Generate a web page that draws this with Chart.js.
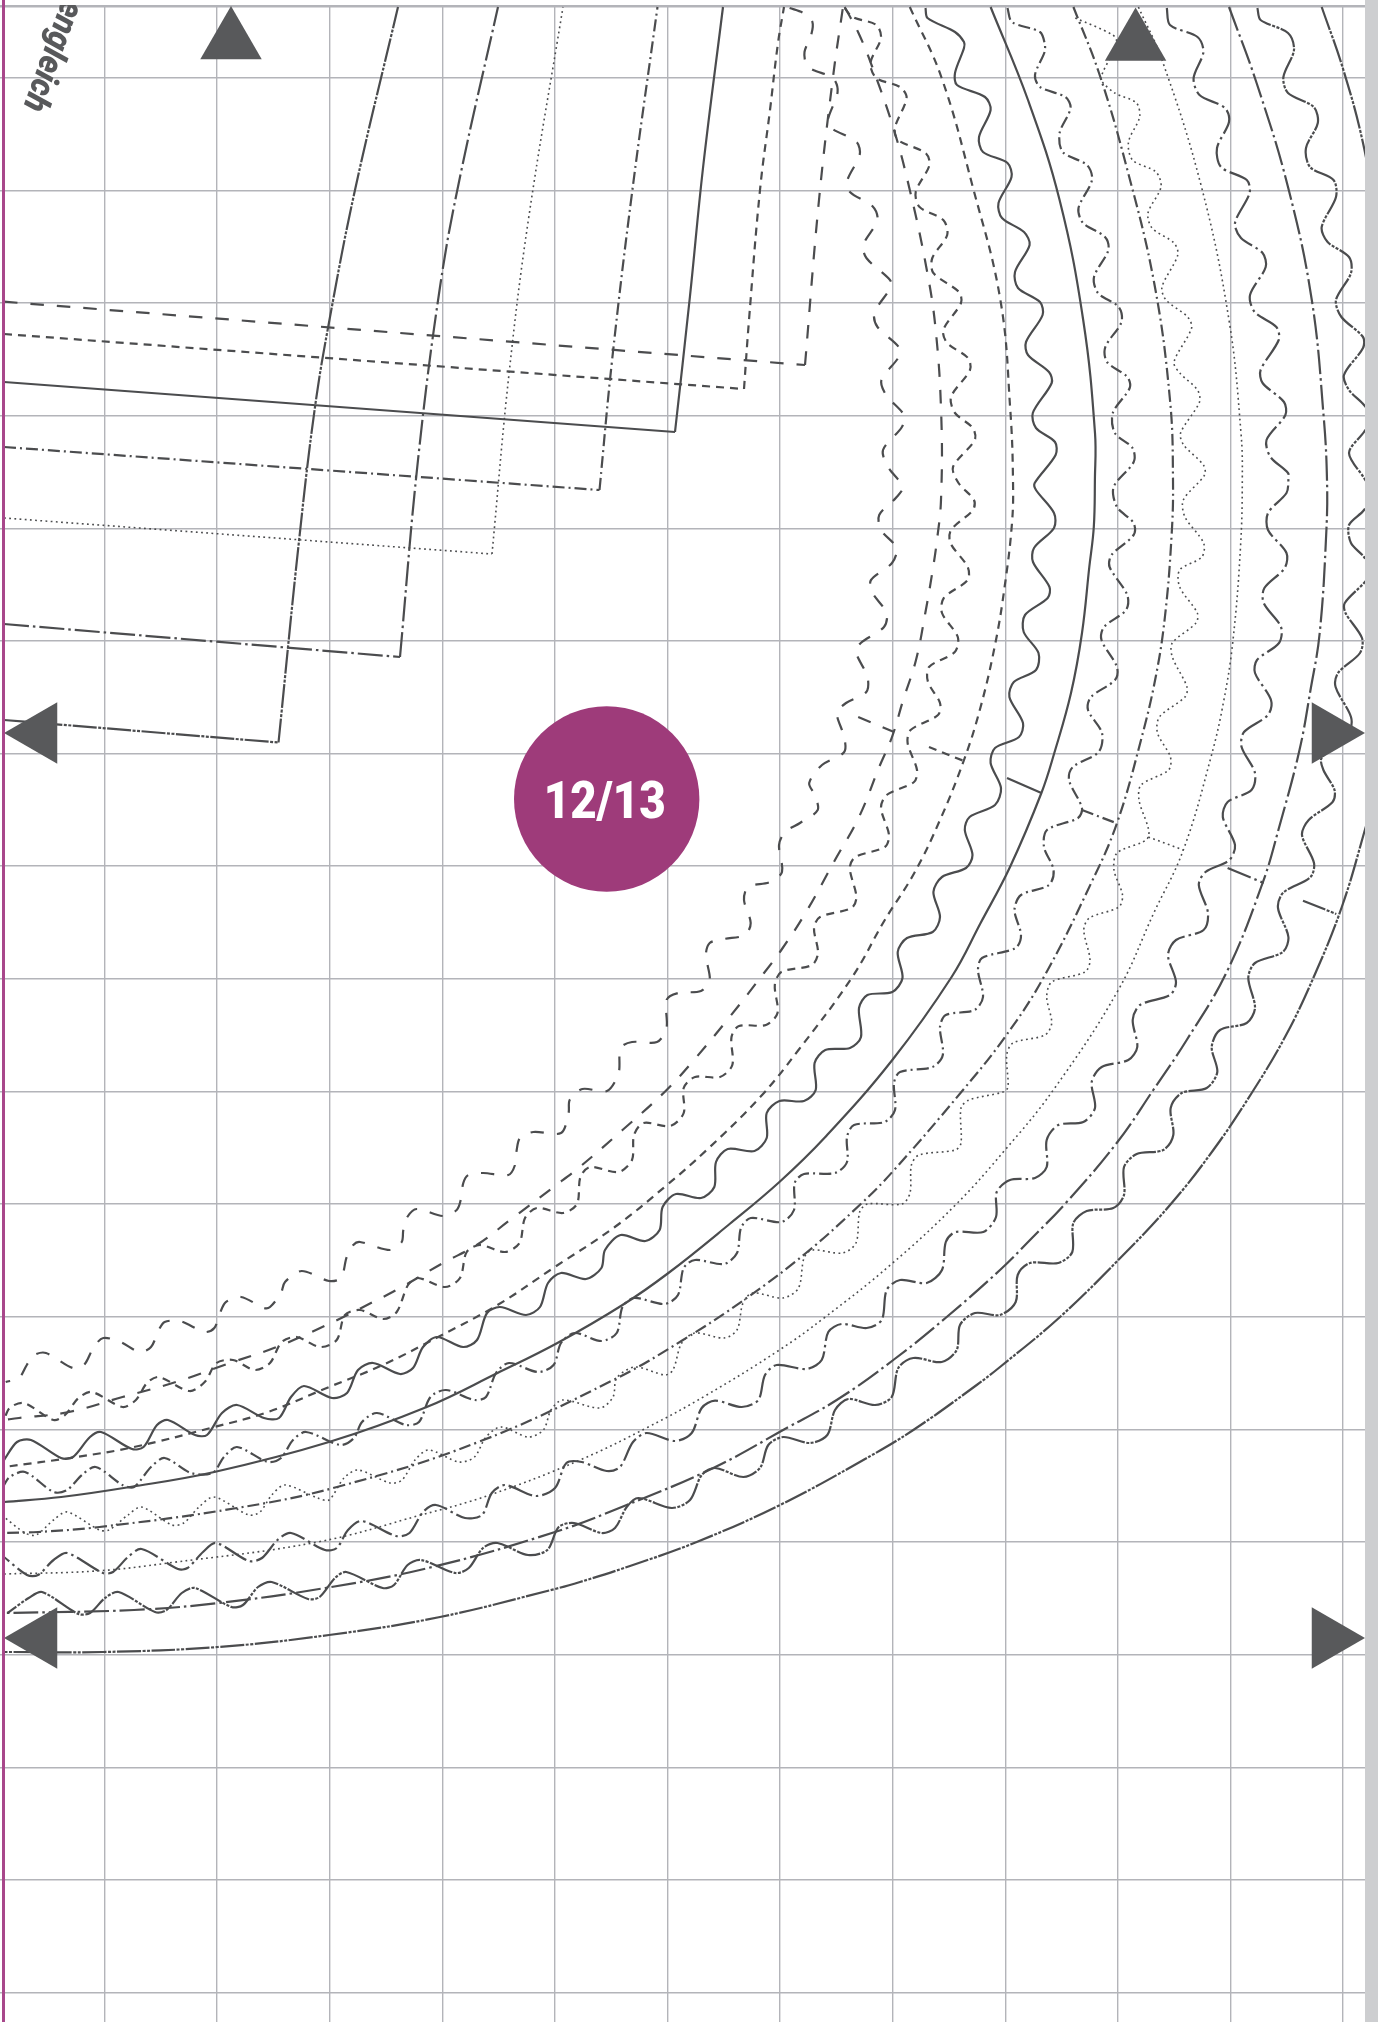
<!DOCTYPE html>
<html>
<head>
<meta charset="utf-8">
<title>12/13</title>
<script src="https://cdn.jsdelivr.net/npm/chart.js@4"></script>
<style>
html, body { margin: 0; padding: 0; background: #fff; }
body { width: 1378px; height: 2022px; position: relative; overflow: hidden; }
#sheet { position: absolute; left: 0; top: 5px; }
.edgeLeft { position: absolute; left: 2px; top: 0; width: 3px; height: 2022px; background: #a8478b; }
.edgeRight { position: absolute; left: 1365px; top: 0; width: 13px; height: 2022px; background: #cdced0; }
</style>
</head>
<body>
<canvas id="sheet" width="1365" height="2017"></canvas>
<div class="edgeLeft"></div>
<div class="edgeRight"></div>
<script>
const gridX = [104.3, 217, 329.6, 442.2, 554.8, 667.4, 780, 892.6, 1005.2, 1117.8, 1230.4, 1343];
const gridY = [6, 77.7, 190.3, 303, 415.7, 528.3, 641, 753.3, 866, 978.6, 1091.3, 1204, 1316.6, 1429.3, 1541.9, 1654.6, 1767.2, 1879.5, 1992.3];

const labelBadge = '12/13';
const labelTop = 'engleich';
const badgeCenter = [[606.7, 799]];
const arrowsUp = [[231, 41.5], [1135.6, 43]];
const arrowsRight = [[1329.5, 733], [1329.5, 1638]];
const arrowsLeft = [[39.5, 733], [39.5, 1638]];

// square corners, one per size: straight edge, then the side that runs up
const edgeLongDash = [[4,301.7],[805,365]];
const edgeShortDash = [[4,334],[744,389]];
const edgeSolid = [[4,382],[675,432]];
const edgeDotDash = [[4,447],[599.5,490]];
const edgeDotted = [[4,518],[492,554]];
const edgeDashDot = [[4,624],[400,657]];
const edgeDashDotDot = [[4,720],[278.5,742.5]];
const sideLongDash = [[805,365],[819,200],[833,77],[843,7]];
const sideShortDash = [[744,389],[749,320],[760,190],[770,110],[778,43],[784,7]];
const sideSolid = [[675,432],[690,296],[703,168],[723,7]];
const sideDotDash = [[599.5,490],[612,361],[632,193],[657.5,7]];
const sideDotted = [[492,554],[509,374],[528.5,219],[563,7]];
const sideDashDot = [[400,657],[418,460],[440,287],[460,177],[498,7]];
const sideDashDotDot = [[278.5,742.5],[299,541],[315,407],[330,317],[355,190],[398,7]];

// round edges
const arcLongDash = [[844.7,7],[858.5,33],[872.3,67],[894,130],[909.8,190],[925.5,263],[935.4,327],[941.3,417],[941,500],[937,540],[932.7,570],[925.3,613],[916,660],[903.2,700],[892,737],[879.2,767],[859,817],[835,860],[805.5,913],[781.3,950],[764,973],[729.6,1017],[691.4,1063],[664.6,1092],[622.5,1130],[578.5,1168],[553.6,1187],[510,1220],[476.7,1245],[443,1263],[400,1288],[373,1302],[326.7,1325],[276.7,1347],[230,1363],[176,1382],[122.5,1397],[69,1412],[19,1418],[4,1420]];
const arcShortDash = [[909.8,7],[941.3,77],[972.8,187],[1000.4,300],[1010.3,410],[1013,480],[1012,523],[1004.6,587],[995.4,643],[980.6,707],[964,760],[940,820],[914.3,873],[884.8,920],[851.6,978],[798.5,1050],[760.2,1097],[706.7,1150],[664.6,1187],[614.8,1227],[553.3,1268],[497.5,1305],[440,1336],[382.7,1365],[329,1387],[268,1412],[214.3,1427],[134,1447],[76.5,1457],[4,1467]];
const arcSolid = [[990.6,7],[1028,100],[1059.6,200],[1083.2,320],[1095,433],[1094.9,480],[1093.8,527],[1089.3,567],[1082,633],[1071,693],[1054.3,753],[1041.4,793],[1010,867],[980.6,923],[951.6,977],[892.3,1060],[825.3,1137],[779.4,1182],[729.6,1224],[668.4,1273],[622.5,1305],[557.4,1343],[497.5,1373],[426.7,1407],[329,1442],[214.3,1472],[130,1487],[61.2,1497],[4,1502]];
const arcDotDash = [[1073.4,7],[1099,73],[1126.6,167],[1154.2,283],[1170,400],[1173,480],[1171.5,537],[1164.9,617],[1155.7,677],[1141,740],[1117,823],[1091.2,883],[1043.3,978],[1005,1037],[963,1090],[892.3,1172],[859.7,1205],[806,1253],[746.7,1298],[683,1340],[613.3,1380],[478.4,1442],[337,1487],[237,1508],[99.5,1527],[38,1532],[4,1533]];
const arcDotted = [[1138.4,7],[1162,60],[1201.5,187],[1229,320],[1241,433],[1242.3,480],[1240.5,547],[1233,640],[1223.9,700],[1211,757],[1183.3,850],[1153.8,913],[1118.3,990],[1053.3,1090],[1005,1150],[955.4,1205],[890.4,1265],[825.3,1317],[779.4,1350],[706.7,1395],[648.3,1427],[580,1460],[489.8,1495],[421,1515],[317.6,1542],[168.4,1563],[95.7,1571],[4,1574]];
const arcDashDot = [[1229,7],[1256.6,83],[1288,187],[1311.8,300],[1323.7,417],[1327,480],[1326.4,530],[1319.7,633],[1310.5,690],[1299.5,750],[1279.2,827],[1262.6,883],[1226.7,972],[1186.7,1040],[1153.3,1090],[1116.7,1143],[1066.7,1202],[1030,1240],[1000,1270],[946.7,1317],[893.3,1360],[836.7,1400],[786.7,1428],[713.3,1468],[626.7,1505],[555,1532],[432.4,1567],[325.3,1588],[218.1,1603],[134,1610],[4,1613]];
const arcDashDotDot = [[1321.7,7],[1343.4,70],[1363,143],[1372,200],[1385,350],[1390,500],[1388,650],[1378,780],[1364,833],[1341.8,907],[1313.3,978],[1285,1037],[1251.7,1093],[1213.3,1150],[1170,1205],[1118.3,1260],[1060,1317],[1000,1367],[976.7,1385],[913.3,1430],[863.3,1460],[780,1505],[696.7,1542],[630,1566],[580,1582],[555,1589],[440,1617],[329,1635],[218,1647],[103,1652],[4,1652]];

// seam marks between a wave and its arc
const notchLongDash = [[858.2,717],[894,732]];
const notchShortDash = [[929,747],[964,761]];
const notchSolid = [[1007,778],[1041.4,793]];
const notchDotDash = [[1082,810],[1116,823]];
const notchDotted = [[1148.3,837],[1183.3,850]];
const notchDashDot = [[1227.6,868],[1263.7,883]];
const notchDashDotDot = [[1303,900.7],[1336.3,914]];

// wavy edges
const waveLongDash = [[789.6,8],[803.4,13],[812.4,22],[811.2,35],[804.5,52],[806.5,65],[813.2,70],[833,78],[837.6,92],[827.8,120],[831,128],[856.6,142],[859.7,155],[847.5,180],[849.9,192],[872.3,206],[877.5,220],[863.3,245],[866.4,258],[890,280],[890.9,287],[874.3,313],[877.5,327],[898.7,347],[898.7,357],[881.4,380],[886.1,395],[903.9,415],[901.9,427],[883,450],[888,467],[902.7,487],[895.8,498],[879.2,515],[881,530],[896.6,548],[892,563],[871,580],[871.9,592],[886.6,613],[884,627],[860.8,643],[856,652],[867.5,677],[866.3,692],[846,703],[836.9,713],[844.2,737],[844.2,752],[822,765],[809.2,783],[814.7,795],[817.7,810],[800,823],[785,832],[779,845],[782,872],[770,882],[748,887],[744,900],[750.7,923],[745,935],[723.9,939],[709.7,943],[705.9,955],[709.7,980],[701,991],[678,993],[666.5,1000],[666.5,1028],[657,1042],[632,1042],[620.6,1048],[618.6,1073],[607,1091],[582.3,1089],[569.7,1100],[568.6,1113],[561,1133],[533.3,1132],[520,1138],[516.7,1150],[515,1165],[508.3,1175],[483.3,1173],[468.3,1175],[463.3,1183],[460.7,1200],[456.7,1210],[443.3,1216],[416.7,1209],[407.3,1217],[403.3,1230],[401.7,1242],[390,1250],[360,1242],[353.3,1245],[346.7,1257],[341,1278],[329,1281],[301.7,1271],[285,1282],[281,1293],[270,1307],[264,1308],[241,1297],[225.8,1302],[220,1313],[214.3,1328],[204.7,1332],[180,1321],[164.6,1322],[158.8,1330],[151,1347],[139.7,1352],[120.6,1342],[103.3,1338],[93.8,1347],[84,1365],[72.7,1368],[46,1353],[34.4,1355],[26.8,1365],[19,1378],[5.7,1382]];
const waveShortDash = [[844.7,8],[852.6,17],[876.3,25],[881,38],[870.4,63],[876.3,78],[900,87],[906.6,98],[894.8,128],[898,140],[925.5,153],[929.5,165],[915.7,192],[919.6,207],[943.3,220],[947.2,235],[932.3,258],[933.4,273],[959,292],[961,303],[943.3,330],[947.2,343],[968,358],[970,370],[951,397],[955,413],[972.8,428],[974.8,440],[953,467],[958.5,483],[974,500],[973,510],[951,530],[950.4,543],[967.7,567],[967.7,580],[943.8,598],[942,613],[957.8,637],[954.8,652],[929,667],[928,682],[940,703],[938,715],[910.6,730],[907.6,743],[917,770],[914,782],[886.6,795],[881,808],[889,835],[884.8,847],[855.3,857],[849.8,868],[856.4,897],[851.6,908],[820,917],[814,928],[818,953],[812,965],[781.3,972],[774.8,985],[777.5,1013],[766,1025],[739,1026],[731.5,1037],[732.3,1065],[720,1077],[695,1077],[683.7,1088],[683.7,1113],[670.3,1126],[643.5,1123],[634,1135],[632,1160],[618.6,1172],[590,1167],[580.4,1177],[577,1204],[563,1213],[537,1208],[525,1218],[519.5,1243],[505,1252],[480,1245],[466.7,1252],[460,1278],[445,1287],[418,1278],[408,1285],[396.7,1312],[383,1319],[360,1310],[345,1315],[336.7,1340],[320,1347],[296.7,1337],[281.7,1342],[270,1363],[255,1370],[233,1360],[216.5,1363],[204.7,1382],[189.4,1391],[158.8,1377],[147,1383],[135.9,1400],[122.5,1407],[91.8,1392],[78.5,1398],[65,1415],[53.6,1420],[23.7,1403],[9.6,1408],[4,1420]];
const waveSolid = [[925.5,8],[927.5,18],[955,32],[964,42],[964,48],[955,73],[957,85],[985,97],[990.6,110],[979,137],[983,152],[1007.5,163],[1011.5,177],[998.5,203],[1002,218],[1024,232],[1029.6,245],[1015,272],[1018,288],[1040,302],[1042.6,315],[1026,342],[1028,355],[1049,372],[1051.7,383],[1032.8,413],[1036,428],[1055,442],[1055.6,455],[1034.7,483],[1036,490],[1054,513],[1054,528],[1034,548],[1033,562],[1049.5,587],[1047.7,598],[1025,615],[1023.7,632],[1038.5,653],[1036,670],[1013.8,682],[1009.4,697],[1023,723],[1019,737],[995,748],[990.6,763],[1001,788],[995,805],[969.6,817],[964.8,830],[972.5,855],[966,868],[942,877],[933.4,892],[940,917],[932.7,932],[907,938],[897.7,952],[902.5,978],[892.3,992],[867.4,995],[859,1008],[861,1037],[850,1048],[825.3,1050],[814.6,1063],[815.7,1090],[804,1101],[779.4,1101],[766.7,1113],[766.7,1138],[754.5,1151],[727.7,1149],[716,1162],[714.3,1187],[701,1198],[676,1194],[662.6,1207],[659.6,1230],[645.4,1241],[620.6,1235],[605,1250],[601.4,1268],[586,1279],[561,1273],[548,1283],[540,1307],[526,1315],[500,1307],[487,1313],[477,1340],[463,1347],[437,1337],[423,1347],[413,1368],[400,1374],[373,1363],[358,1370],[347,1393],[332,1398],[304,1386],[291,1397],[279,1418],[264,1418],[237,1405],[222,1413],[207,1435],[195,1435],[168,1420],[157,1425],[143.5,1447],[132,1449],[101,1432],[90,1437],[73,1457],[61,1458],[31,1440],[17,1442],[4,1460]];
const waveDotDash = [[1007.5,8],[1012,22],[1040,32],[1044.6,43],[1044.6,52],[1035,75],[1040,87],[1065.5,97],[1070.6,108],[1059.6,133],[1062.7,152],[1087,165],[1092,180],[1078.5,208],[1083,223],[1105,237],[1108.4,250],[1094,277],[1098,293],[1118.7,307],[1121.5,322],[1105.3,347],[1107,362],[1127.4,377],[1129.7,388],[1112.8,413],[1114.8,433],[1132.5,448],[1133.7,462],[1113.6,487],[1117,507],[1133.6,523],[1133.6,535],[1111.5,555],[1109.6,567],[1127.3,595],[1126,610],[1104,627],[1101.5,640],[1117,667],[1115,680],[1091,697],[1088,710],[1102,733],[1098.6,752],[1072.8,767],[1069,780],[1082,808],[1078,818],[1047,830],[1044,847],[1053.6,870],[1049,885],[1021,895],[1014.5,910],[1021,935],[1015.6,948],[982,958],[978,970],[983,997],[974.6,1010],[945.8,1015],[940,1027],[942.8,1055],[932.5,1067],[900,1072],[894,1083],[895,1110],[884.6,1122],[854,1125],[847,1137],[847,1162],[835,1173],[804,1174],[794.7,1183],[794,1210],[781.3,1222],[750.7,1218],[741,1228],[737,1253],[724,1264],[695,1260],[683.7,1268],[678,1295],[664.6,1304],[634,1298],[622.5,1307],[616.7,1333],[601.4,1341],[574.6,1333],[561,1343],[553.6,1365],[538,1372],[509,1363],[496,1373],[486,1397],[474.5,1400],[446,1390],[430.5,1397],[419,1422],[405.7,1425],[377,1413],[362,1422],[354,1438],[340.6,1445],[306,1432],[293,1440],[281,1458],[268,1462],[237,1447],[224,1457],[212.4,1473],[191,1473],[164.6,1458],[151,1467],[134,1487],[122.5,1485],[95.7,1467],[82,1475],[67,1490],[53.6,1492],[25,1472],[9.6,1477],[4,1485]];
const waveDotted = [[1075.3,18],[1112.8,35],[1116.7,43],[1103,72],[1101,80],[1114.8,93],[1136.4,103],[1139.6,117],[1128.5,142],[1132.5,160],[1156,172],[1161,187],[1148,213],[1152,228],[1174,243],[1177.8,255],[1162,287],[1166,300],[1187.7,317],[1191.6,328],[1174,362],[1179.8,373],[1197.5,390],[1199.5,402],[1180.6,433],[1183.7,445],[1203.4,465],[1204.6,475],[1183.3,500],[1185,517],[1203.6,543],[1201.8,557],[1179.7,570],[1179.7,587],[1197.3,613],[1196,623],[1172.3,643],[1172.3,657],[1187,687],[1185,697],[1159.4,717],[1157.5,733],[1170.4,757],[1168.6,770],[1141,785],[1139,800],[1148.3,837],[1117,853],[1114,870],[1122.5,895],[1118.8,907],[1089.4,918],[1083.8,930],[1090,960],[1085,972],[1051.7,982],[1046.7,997],[1051.7,1023],[1045,1035],[1013,1043],[1006.7,1055],[1008,1087],[1003,1092],[969,1100],[961,1108],[961,1143],[955.4,1150],[919,1155],[911.4,1165],[910,1193],[902,1204],[867.4,1204],[859.7,1212],[856,1243],[842.5,1253],[812,1250],[804,1258],[798.5,1288],[783,1298],[752.6,1293],[743,1303],[737,1330],[724,1338],[695,1333],[681.7,1343],[673,1370],[665,1375],[635,1367],[616.7,1378],[613,1397],[600,1408],[562.6,1400],[551,1410],[543.4,1430],[528,1437],[501,1427],[486,1437],[474.5,1457],[459,1462],[428.6,1450],[415,1460],[402,1480],[390,1483],[358,1470],[344,1478],[329,1500],[317.6,1498],[285,1485],[271.7,1495],[260,1512],[248.8,1515],[214,1497],[199,1507],[183.7,1523],[172,1525],[141.6,1507],[128,1515],[109,1530],[99.5,1530],[67,1512],[53.6,1520],[36,1535],[25,1533],[4,1517]];
const waveDashDot = [[1166.8,8],[1170,25],[1197.5,37],[1203.4,52],[1193.6,78],[1199.5,95],[1225,108],[1229,122],[1217,148],[1221,167],[1246.8,180],[1249.6,193],[1235,223],[1241,238],[1262.6,253],[1265.7,267],[1250,295],[1254.7,312],[1276.4,327],[1278.7,340],[1260.6,370],[1262.6,383],[1284,402],[1285.4,415],[1266.5,440],[1270.5,457],[1288,473],[1288.4,480],[1286.5,493],[1268,513],[1268,530],[1286.5,553],[1284.7,568],[1264.4,588],[1263.7,603],[1281,627],[1279,643],[1257,660],[1255,673],[1271,700],[1268,715],[1244,732],[1241.6,747],[1255,773],[1251.5,790],[1227.6,802],[1222.8,817],[1235,845],[1229.4,860],[1205.5,872],[1198.8,885],[1208,913],[1203.6,930],[1176,940],[1168,955],[1176,982],[1170,995],[1140,1005],[1132.7,1020],[1137.3,1047],[1128.3,1060],[1101.7,1067],[1091.7,1082],[1095,1108],[1083.3,1122],[1058.3,1125],[1046.7,1140],[1046.7,1167],[1035,1178],[1010,1180],[996.7,1192],[996,1217],[983.3,1232],[955.4,1232],[945.8,1242],[942,1270],[926.7,1283],[900,1280],[886.7,1290],[881.7,1320],[866.7,1328],[841.7,1324],[828.3,1332],[821.7,1360],[806.7,1369],[776.7,1365],[765,1375],[758.3,1400],[741.7,1407],[715,1400.7],[701.7,1408],[691.7,1433],[675,1441],[646.7,1433],[633,1442],[620,1467],[606.7,1471],[581.7,1462],[566.4,1463],[555,1488],[535.8,1496],[505,1485],[491.8,1493],[482,1515],[465,1518],[436,1505],[423,1512],[409.5,1533],[396,1536],[361.7,1521],[348,1530],[336.8,1548],[325,1550],[291,1533],[277.5,1540],[262,1558],[248.8,1561],[216,1543],[203,1552],[187.5,1568],[178,1569],[141.6,1549],[128,1557],[113,1572],[103,1573],[67,1553],[53.6,1560],[38,1575],[27,1575],[4,1557]];
const waveDashDotDot = [[1257.4,8],[1260.6,20],[1288,33],[1294,50],[1283.4,77],[1288,93],[1313.8,107],[1317.8,123],[1306,148],[1310,167],[1333.5,180],[1336,197],[1321.7,227],[1327.6,242],[1349,257],[1351,273],[1336,300],[1341.4,317],[1363,337],[1363,348],[1344,375],[1349,390],[1364,405],[1372,418],[1364,432],[1349,453],[1364,478],[1372,492],[1364,510],[1349,525],[1351,543],[1364,557],[1372,572],[1364,583],[1344.8,603],[1345.5,613],[1362,638],[1360,653],[1338,673],[1335.6,687],[1351,717],[1349,732],[1321.6,758],[1323.4,770],[1334.5,790],[1332.6,802],[1308.7,820],[1302,835],[1314,863],[1310.5,877],[1282.9,893],[1278,908],[1288.4,937],[1282.9,952],[1255,963],[1248.3,978],[1255,1008],[1246.7,1023],[1220,1030],[1211.7,1047],[1217.3,1072],[1206.7,1088],[1181.7,1093],[1170.7,1108],[1173.3,1135],[1163.3,1150],[1136.7,1154],[1124,1167],[1124,1195],[1113.3,1208],[1086.7,1211],[1073.3,1223],[1072.3,1252],[1058.3,1263],[1030,1263],[1017.7,1275],[1015.7,1302],[1000,1315],[975,1313],[960,1325],[956.7,1350],[941.7,1362],[913.3,1358],[898.3,1368],[891.7,1397],[875,1405],[848.3,1399],[835,1410],[827.3,1435],[810,1443],[783.3,1437],[768.3,1445],[760,1468],[743.3,1477],[715,1468],[701.7,1475],[690,1500],[671.7,1508],[638.3,1498],[626.7,1507],[615,1528],[601.7,1533],[574,1523],[558.7,1527],[547.3,1550],[528,1555],[497.5,1543],[483,1548],[468.8,1568],[455.4,1573],[421,1560],[407.6,1565],[394,1585],[382.7,1588],[346.3,1572],[335,1578],[319.6,1597],[308,1599],[271.7,1582],[258,1587],[243,1605],[231.5,1607],[195,1588],[181.8,1593],[166.5,1610],[155,1612],[118.6,1592],[105,1598],[90,1613],[78.5,1614],[42,1592],[28.7,1598],[7.7,1613]];

const lineColor = '#4b4c4e';
const markColor = '#58595b';
const dashLong = [13.5, 13];
const dashShort = [8, 6];
const dashSolid = [];
const dashDotDash = [12, 4, 2, 4];
const dashDots = [1.8, 3.4];
const dashLongDot = [25, 4, 2.5, 4];
const dashLongDots = [24, 1.5, 3, 1.5, 3, 1.5];

function points(list) {
    return list.map(p => ({ x: p[0], y: p[1] }));
}

function stroke(list, dash, tension, width) {
    return {
        type: 'scatter',
        data: points(list),
        showLine: true,
        pointRadius: 0,
        borderColor: lineColor,
        borderWidth: width || 2.2,
        borderDash: dash,
        tension: tension,
        order: 2,
    };
}

function arrow(list, rotation) {
    return {
        type: 'scatter',
        data: points(list),
        showLine: false,
        pointStyle: 'triangle',
        pointRotation: rotation,
        pointRadius: 35.5,
        pointBackgroundColor: markColor,
        pointBorderWidth: 0,
        clip: false,
        order: 1,
    };
}

const datasets = [
    {
        type: 'scatter',
        data: points(badgeCenter),
        pointRadius: 92.7,
        pointBackgroundColor: '#9e3b7a',
        pointBorderWidth: 0,
        order: 0,
    },
    arrow(arrowsUp, 0),
    arrow(arrowsRight, 90),
    arrow(arrowsLeft, -90),
    stroke(edgeLongDash, dashLong, 0),
    stroke(edgeShortDash, dashShort, 0),
    stroke(edgeSolid, dashSolid, 0),
    stroke(edgeDotDash, dashDotDash, 0),
    stroke(edgeDotted, dashDots, 0, 1.6),
    stroke(edgeDashDot, dashLongDot, 0),
    stroke(edgeDashDotDot, dashLongDots, 0),
    stroke(sideLongDash, dashLong, 0.4),
    stroke(sideShortDash, dashShort, 0.4),
    stroke(sideSolid, dashSolid, 0.4),
    stroke(sideDotDash, dashDotDash, 0.4),
    stroke(sideDotted, dashDots, 0.4, 1.6),
    stroke(sideDashDot, dashLongDot, 0.4),
    stroke(sideDashDotDot, dashLongDots, 0.4),
    stroke(arcLongDash, dashLong, 0.4),
    stroke(arcShortDash, dashShort, 0.4),
    stroke(arcSolid, dashSolid, 0.4),
    stroke(arcDotDash, dashDotDash, 0.4),
    stroke(arcDotted, dashDots, 0.4, 1.6),
    stroke(arcDashDot, dashLongDot, 0.4),
    stroke(arcDashDotDot, dashLongDots, 0.4),
    stroke(notchLongDash, dashLong, 0),
    stroke(notchShortDash, dashShort, 0),
    stroke(notchSolid, dashSolid, 0),
    stroke(notchDotDash, dashDotDash, 0),
    stroke(notchDotted, dashDots, 0, 1.6),
    stroke(notchDashDot, dashLongDot, 0),
    stroke(notchDashDotDot, dashLongDots, 0),
    stroke(waveLongDash, dashLong, 0.3),
    stroke(waveShortDash, dashShort, 0.3),
    stroke(waveSolid, dashSolid, 0.3),
    stroke(waveDotDash, dashDotDash, 0.3),
    stroke(waveDotted, dashDots, 0.3, 1.6),
    stroke(waveDashDot, dashLongDot, 0.3),
    stroke(waveDashDotDot, dashLongDots, 0.3),
];

const sheetLabels = {
    id: 'sheetLabels',
    afterDatasetsDraw(chart) {
        const ctx = chart.ctx;
        const x = chart.scales.x;
        const y = chart.scales.y;
        ctx.save();
        ctx.fillStyle = '#ffffff';
        ctx.font = '900 52px Roboto';
        ctx.textAlign = 'center';
        ctx.textBaseline = 'alphabetic';
        ctx.fillText(labelBadge, x.getPixelForValue(604.7), y.getPixelForValue(818.3), 122);
        ctx.restore();

        ctx.save();
        ctx.translate(x.getPixelForValue(23), y.getPixelForValue(107));
        ctx.rotate(110 * Math.PI / 180);
        ctx.fillStyle = markColor;
        ctx.font = 'italic 900 35px Roboto';
        ctx.textAlign = 'right';
        ctx.textBaseline = 'alphabetic';
        ctx.fillText(labelTop, 0, 0, 116);
        ctx.restore();
    },
};

function gridScale(values, min, max, reverse) {
    return {
        type: 'linear',
        min: min,
        max: max,
        reverse: reverse,
        afterBuildTicks: scale => {
            scale.ticks = values.map(v => ({ value: v }));
        },
        ticks: { display: false },
        border: { display: false },
        grid: {
            color: '#b3b4b9',
            lineWidth: ctx => (ctx.tick && ctx.tick.value === 6 ? 2.4 : 1.4),
            drawTicks: false,
        },
    };
}

new Chart(document.getElementById('sheet'), {
    data: { datasets: datasets },
    plugins: [sheetLabels],
    options: {
        responsive: false,
        animation: false,
        events: [],
        layout: { padding: 0, autoPadding: false },
        plugins: {
            legend: { display: false },
            tooltip: { enabled: false },
        },
        scales: {
            x: gridScale(gridX, 0, 1365, false),
            y: gridScale(gridY, 5, 2022, true),
        },
    },
});
</script>
</body>
</html>
